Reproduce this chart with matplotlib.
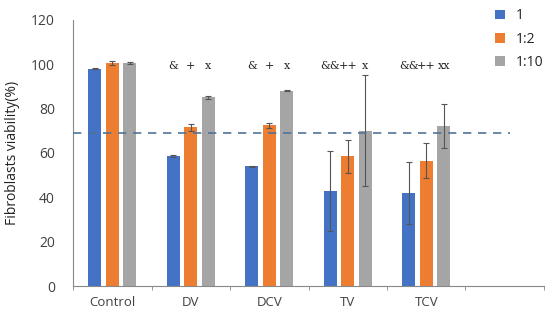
import numpy as np
import matplotlib
matplotlib.use("Agg")
import matplotlib.pyplot as plt

categories = ["Control", "DV", "DCV", "TV", "TCV"]
series_names = ["1", "1:2", "1:10"]
vals_1 = [98, 58.5, 54, 43, 42]
vals_12 = [100.5, 71.5, 72.5, 58.5, 56.5]
vals_110 = [100.5, 85, 88, 70, 72]
err_1 = [0.3, 0.4, 0.3, 18, 14]
err_12 = [0.8, 1.5, 1.2, 7.5, 8]
err_110 = [0.4, 0.5, 0.3, 25, 10]
marks_1 = ["", "&", "&", "&&", "&&"]
marks_12 = ["", "+", "+", "++", "++"]
marks_110 = ["", "x", "x", "x", "xx"]
threshold = 69
n_slots = 6

colors = ["#4472C4", "#ED7D31", "#A5A5A5"]
text_col = "#404040"

plt.rcParams['font.family'] = ['Open Sans', 'DejaVu Sans']

fig = plt.figure(figsize=(5.5, 3.15), dpi=100)
ax = fig.add_axes([0.133, 0.092, 0.856, 0.845])

x = np.arange(len(categories))
width = 0.166
step = 0.223
all_vals = [vals_1, vals_12, vals_110]
all_errs = [err_1, err_12, err_110]
all_marks = [marks_1, marks_12, marks_110]
for i in range(3):
    xs = x + (i - 1) * step
    ax.bar(xs, all_vals[i], width, color=colors[i], label=series_names[i], zorder=2)
    ax.errorbar(xs, all_vals[i], yerr=all_errs[i], fmt="none", ecolor="#555555",
                elinewidth=0.8, capsize=2, capthick=0.8, zorder=3)
    for xx, m in zip(xs, all_marks[i]):
        ax.text(xx, 99, m, ha="center", va="center", fontsize=8,
                family=["DejaVu Serif"], color="#222222")

ax.plot([-0.5, 5.07], [threshold, threshold], color="#4F7399",
        lw=1.2, ls=(0, (5, 4)), zorder=4)

ax.set_xlim(-0.5, n_slots - 0.5)
ax.set_ylim(0, 120)
ax.set_yticks(np.arange(0, 121, 20))
ax.set_xticks(x)
ax.set_xticklabels(categories, fontsize=9.5, color=text_col)
ax.set_xticks(np.arange(n_slots + 1) - 0.5, minor=True)
ax.tick_params(axis="x", which="major", length=0, pad=7)
ax.tick_params(axis="x", which="minor", length=3, color="#888888", direction="out")
ax.tick_params(axis="y", length=0, pad=13, labelsize=10, labelcolor=text_col)

for s in ["top", "right"]:
    ax.spines[s].set_visible(False)
ax.spines["left"].set_color("#888888")
ax.spines["bottom"].set_color("#888888")

ax.set_ylabel("Fibroblasts viability(%)", fontsize=10, color="#222222")
ax.yaxis.set_label_coords(-0.112, 0.5)

leg = ax.legend(loc="upper left", bbox_to_anchor=(0.87, 1.09), frameon=False,
                fontsize=10, handlelength=0.7, handleheight=0.7,
                labelspacing=0.6, handletextpad=0.8)
for t in leg.get_texts():
    t.set_color("#222222")

fig.savefig("out.png", dpi=100)
